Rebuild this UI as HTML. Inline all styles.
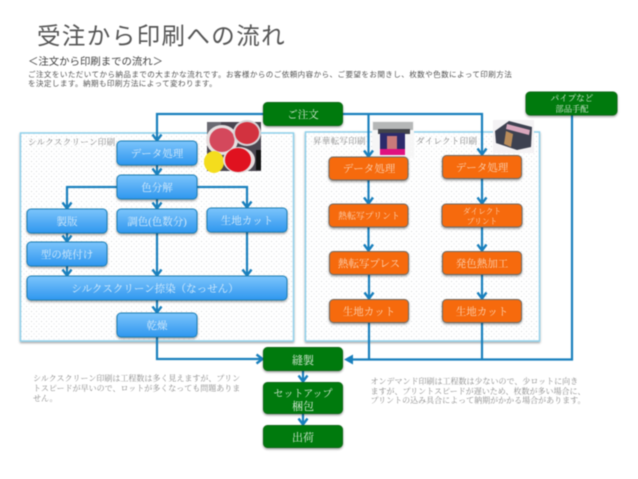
<!DOCTYPE html>
<html lang="ja"><head><meta charset="utf-8">
<style>
html,body{margin:0;padding:0;background:#fff}
body{width:638px;height:479px;overflow:hidden;position:relative}
svg{position:absolute;left:0;top:0;filter:blur(.45px)}
text{font-family:"Liberation Serif","Noto Serif CJK SC",serif}
.s{font-family:"Liberation Sans","Noto Sans CJK JP",sans-serif}
.w{fill:#d8ecfb;text-anchor:middle;font-size:10.5px}
.o{fill:#fbd3b4;text-anchor:middle;font-size:10.5px}
.g{fill:#d9ecd9;text-anchor:middle;font-size:10.5px}
.n{fill:#8a8a8a;font-size:8px}
.l{fill:#8a8a8a;font-size:8.5px;letter-spacing:.3px}
</style></head><body>
<svg width="638" height="479" viewBox="0 0 638 479" xmlns="http://www.w3.org/2000/svg">
<defs>
<pattern id="dots" width="5" height="5" patternUnits="userSpaceOnUse"><rect x="1" y="1" width="1" height="1" fill="#d4d8da"/><rect x="3.500" y="3.500" width="1" height="1" fill="#dfe2e4"/></pattern>
<linearGradient id="b" x1="0" y1="0" x2="0" y2="1"><stop offset="0" stop-color="#7cc4fb"/><stop offset="1" stop-color="#2f97ef"/></linearGradient>
<filter id="sh" x="-10%" y="-20%" width="120%" height="150%"><feDropShadow dx="0" dy="1.300" stdDeviation="1" flood-color="#000" flood-opacity=".4"/></filter>
<marker id="a" markerWidth="12" markerHeight="12" refX="8" refY="6" orient="auto" markerUnits="userSpaceOnUse"><path d="M1.500 1.500L7.500 6L1.500 10.500" fill="none" stroke="#1a80bd" stroke-width="2.400"/></marker>
</defs>

<text x="37" y="44" class="s" font-size="23.500" fill="#555" letter-spacing="1.400">受注から印刷への流れ</text>
<text x="28" y="65" class="s" font-size="10.400" fill="#444">＜注文から印刷までの流れ＞</text>
<text x="28" y="77" class="s" font-size="7.550" fill="#555" letter-spacing=".42">ご注文をいただいてから納品までの大まかな流れです。お客様からのご依頼内容から、ご要望をお聞きし、枚数や色数によって印刷方法</text>
<text x="28" y="86" class="s" font-size="7.550" fill="#555" letter-spacing=".42">を決定します。納期も印刷方法によって変わります。</text>

<g filter="url(#sh)"><rect x="20.500" y="133" width="273" height="208" fill="#fff" stroke="#8fd0ea" stroke-width="1.300"/></g>
<rect x="20.500" y="133" width="273" height="208" fill="url(#dots)" stroke="#8fd0ea" stroke-width="1.300"/>
<g filter="url(#sh)"><rect x="305.500" y="132" width="234" height="209" fill="#fff" stroke="#8fd0ea" stroke-width="1.300"/></g>
<rect x="305.500" y="132" width="234" height="209" fill="url(#dots)" stroke="#8fd0ea" stroke-width="1.300"/>

<text x="28" y="145" class="l">シルクスクリーン印刷</text>
<text x="313" y="144" class="l">昇華転写印刷</text>
<text x="416" y="144" class="l">ダイレクト印刷</text>

<!-- photo 1 -->
<rect x="207" y="122" width="54" height="49" fill="#4a4650"/>
<rect x="207" y="122" width="14" height="12" fill="#6a6a72"/>
<ellipse cx="222" cy="140" rx="16" ry="15" fill="#e6e0e0"/><ellipse cx="222" cy="140" rx="12.500" ry="12" fill="#d4485c"/>
<ellipse cx="247" cy="133" rx="14" ry="13" fill="#d7d3d6"/><ellipse cx="247" cy="133" rx="12" ry="11" fill="#d2323f"/>
<ellipse cx="214" cy="162" rx="10" ry="11" fill="#f4dd1d"/>
<ellipse cx="239" cy="160" rx="16" ry="13" fill="#e6dede"/><ellipse cx="238" cy="160" rx="13" ry="12" fill="#e0121f"/>
<rect x="256" y="150" width="5" height="20" fill="#111"/>
<!-- photo 2 -->
<rect x="372" y="121" width="42" height="37" fill="#f6f6f6"/>
<rect x="373" y="122" width="40" height="8" fill="#b5b7b7"/>
<rect x="378" y="129" width="32" height="5" fill="#42444a"/>
<rect x="380" y="133" width="25" height="22" fill="#2c2a6a"/>
<rect x="387" y="136" width="10" height="13" fill="#c97a7a"/>
<rect x="380" y="149" width="25" height="6" fill="#e0117f"/>
<!-- photo 3 -->
<rect x="493" y="120" width="41" height="33" fill="#f4f2f4"/>
<path d="M495 131L509 121L532 127L531 147L517 150L505 146L496 143Z" fill="#3d4150"/>
<path d="M507 124L530 130L529 135L506 129Z" fill="#d9a7bd"/>
<path d="M506 131L513 134L511 147L504 144Z" fill="#b98c5a"/>

<!-- connectors -->
<g fill="none" stroke="#1a80bd" stroke-width="2.200">
<path d="M264 114H157V141" marker-end="url(#a)"/>
<path d="M157 165V175" marker-end="url(#a)"/>
<path d="M117 187H67V209" marker-end="url(#a)"/>
<path d="M157 199V209" marker-end="url(#a)"/>
<path d="M197 187H247V208" marker-end="url(#a)"/>
<path d="M67 233V242" marker-end="url(#a)"/>
<path d="M157 233V276" marker-end="url(#a)"/>
<path d="M247 232V276" marker-end="url(#a)"/>
<path d="M67 266V276" marker-end="url(#a)"/>
<path d="M157 300V313" marker-end="url(#a)"/>
<path d="M157 337V359H263" marker-end="url(#a)"/>
<path d="M342 114H482V155" marker-end="url(#a)"/>
<path d="M368.500 114V157" marker-end="url(#a)"/>
<path d="M368.500 180V204" marker-end="url(#a)"/>
<path d="M482 179V204" marker-end="url(#a)"/>
<path d="M368.500 227V251" marker-end="url(#a)"/>
<path d="M482 227V251" marker-end="url(#a)"/>
<path d="M369 275V299" marker-end="url(#a)"/>
<path d="M482 275V299" marker-end="url(#a)"/>
<path d="M369 323V359"/><path d="M482 323V359"/>
<path d="M572 115V359.500H350"/>
<path d="M303 371V382" marker-end="url(#a)"/>
<path d="M303 414V425" marker-end="url(#a)"/>
</g>
<path d="M344 359.500L353 354.500V364.500Z" fill="#1a80bd"/>

<!-- blue nodes -->
<g fill="url(#b)" stroke="#1d7fb5" filter="url(#sh)">
<rect x="117" y="141" width="80" height="24" rx="4"/>
<rect x="117" y="175" width="80" height="24" rx="4"/>
<rect x="27" y="209" width="80" height="24" rx="4"/>
<rect x="117" y="209" width="80" height="24" rx="4"/>
<rect x="207" y="208" width="80" height="24" rx="4"/>
<rect x="27" y="242" width="80" height="24" rx="4"/>
<rect x="27" y="276" width="260" height="24" rx="4"/>
<rect x="117" y="313" width="80" height="24" rx="4"/>
</g>
<text x="157" y="157" class="w">データ処理</text>
<text x="157" y="191" class="w">色分解</text>
<text x="67" y="225" class="w">製版</text>
<text x="157" y="225" class="w">調色(色数分)</text>
<text x="247" y="224" class="w">生地カット</text>
<text x="67" y="258" class="w">型の焼付け</text>
<text x="155" y="292" class="w">シルクスクリーン捺染（なっせん）</text>
<text x="157" y="329" class="w">乾燥</text>

<!-- orange nodes -->
<g fill="#f66a0a" stroke="#6f6a64" filter="url(#sh)">
<rect x="329" y="157" width="79" height="23" rx="4"/>
<rect x="442.500" y="155.500" width="79" height="23" rx="4"/>
<rect x="329" y="204" width="79" height="23" rx="4"/>
<rect x="442" y="204" width="80" height="23" rx="4"/>
<rect x="329.500" y="251.500" width="79" height="23" rx="4"/>
<rect x="442.500" y="251.500" width="79" height="23" rx="4"/>
<rect x="329.500" y="299.500" width="79" height="23" rx="4"/>
<rect x="442.500" y="299.500" width="79" height="23" rx="4"/>
</g>
<text x="369" y="172" class="o">データ処理</text>
<text x="482" y="171" class="o">データ処理</text>
<text x="369" y="219" class="o" style="font-size:8.900px">熱転写プリント</text>
<text x="482" y="214" class="o" style="font-size:7.700px">ダイレクト</text>
<text x="482" y="224" class="o" style="font-size:7.700px">プリント</text>
<text x="369" y="267" class="o">熱転写プレス</text>
<text x="482" y="267" class="o">発色熱加工</text>
<text x="369" y="315" class="o">生地カット</text>
<text x="482" y="315" class="o">生地カット</text>

<!-- green nodes -->
<g fill="#067a0e" stroke="#0b6b14" filter="url(#sh)">
<rect x="263.500" y="102.500" width="79" height="23" rx="4"/>
<rect x="526" y="92" width="91" height="23" rx="4"/>
<rect x="263.500" y="347.500" width="79" height="23" rx="4"/>
<rect x="263.500" y="382.500" width="79" height="31" rx="4"/>
<rect x="263.500" y="425.500" width="79" height="22" rx="4"/>
</g>
<text x="303" y="118" class="g">ご注文</text>
<text x="572" y="101" class="g" style="font-size:8.600px">パイプなど</text>
<text x="572" y="112" class="g" style="font-size:8.300px">部品手配</text>
<text x="303" y="364" class="g" style="font-size:11px">縫製</text>
<text x="303" y="397" class="g" style="font-size:10px">セットアップ</text>
<text x="303" y="410" class="g" style="font-size:11px">梱包</text>
<text x="303" y="441" class="g" style="font-size:11px">出荷</text>

<!-- notes -->
<text x="33" y="381" class="n">シルクスクリーン印刷は工程数は多く見えますが、プリン</text>
<text x="33" y="391" class="n">トスピードが早いので、ロットが多くなっても問題ありま</text>
<text x="33" y="401" class="n">せん。</text>
<text x="370.500" y="384" class="n">オンデマンド印刷は工程数は少ないので、少ロットに向き</text>
<text x="370.500" y="394" class="n">ますが、プリントスピードが遅いため、枚数が多い場合に、</text>
<text x="370.500" y="403" class="n">プリントの込み具合によって納期がかかる場合があります。</text>
</svg>
</body></html>
